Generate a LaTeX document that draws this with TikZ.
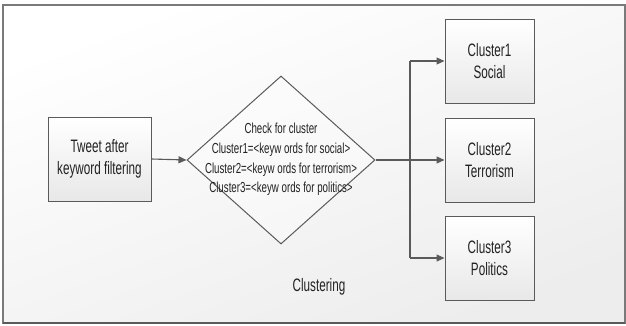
\documentclass[tikz,border=0pt]{standalone}
\usepackage{fontspec}
\usetikzlibrary{shapes.geometric,arrows.meta,shadows}
\newfontfamily\lblfont[FakeStretch=0.65]{Liberation Sans}
\newfontfamily\decfont[FakeStretch=0.67]{Liberation Sans}
\definecolor{framegray}{HTML}{7A7A7A}
\definecolor{edgegray}{HTML}{5A5A5A}
\definecolor{bgbottom}{HTML}{EDEDED}
\definecolor{boxbottom}{HTML}{E8E8E8}
\definecolor{inkgray}{HTML}{222222}
\tikzset{
  panel/.style={draw=framegray, line width=1.5pt, top color=white, bottom color=bgbottom, shading angle=20},
  stepbox/.style={rectangle, draw=edgegray, line width=1pt, top color=white, bottom color=boxbottom,
    drop shadow={shadow xshift=0.8pt, shadow yshift=-1pt, opacity=0.18},
    inner sep=0pt, align=center, text=inkgray,
    font=\lblfont\fontsize{18}{21.5}\selectfont},
  decision/.style={diamond, draw=edgegray, line width=1pt, fill=white, fill opacity=0.35, draw opacity=1,
    inner sep=0pt, minimum width=188pt, minimum height=168pt},
  dectext/.style={align=center, text=inkgray, inner sep=0pt,
    font=\decfont\fontsize{14.5}{19.7}\selectfont},
  plain/.style={text=inkgray, inner sep=0pt, font=\lblfont\fontsize{18}{21.5}\selectfont},
  flow/.style={draw=edgegray, line width=1.1pt, -{Triangle[length=8pt,width=7pt]}},
  wire/.style={draw=edgegray, line width=1.1pt}
}
\begin{document}
\begin{tikzpicture}[x=1pt,y=-1pt]
  \useasboundingbox (0,0) rectangle (626,325);
  % outer frame with soft gradient
  \shade[panel] (3,5) rectangle (625,323);
  \draw[edgegray, line width=1.5pt] (3,323) -- (625,323);

  % input box
  \node[stepbox, minimum width=103pt, minimum height=84pt] (tweet) at (99.5,159)
    {Tweet after\\keyword filtering};

  % decision diamond and its text
  \node[decision] (check) at (281,160) {};
  \node[dectext] (checktext) at (281,159.5)
    {Check for cluster\\Cluster1=<keyw ords for social>\\Cluster2=<keyw ords for terrorism>\\Cluster3=<keyw ords for politics>};

  % output clusters
  \node[stepbox, minimum width=89pt, minimum height=84pt] (c1) at (489.5,61) {Cluster1\\Social};
  \node[stepbox, minimum width=89pt, minimum height=84pt] (c2) at (489.5,160) {Cluster2\\Terrorism};
  \node[stepbox, minimum width=89pt, minimum height=84pt] (c3) at (489.5,258) {Cluster3\\Politics};

  % caption
  \node[plain] (caption) at (319,287) {Clustering};

  % connectors
  \draw[flow] (tweet.east) -- (check.west);
  \coordinate (fork) at (410,160);
  \coordinate (forktop) at (410,61);
  \coordinate (forkbot) at (410,258);
  \draw[wire] (forktop) -- (forkbot);
  \draw[flow] (check.east) -- (c2.west);
  \draw[flow] (forktop) -- (c1.west);
  \draw[flow] (forkbot) -- (c3.west);
\end{tikzpicture}
\end{document}
